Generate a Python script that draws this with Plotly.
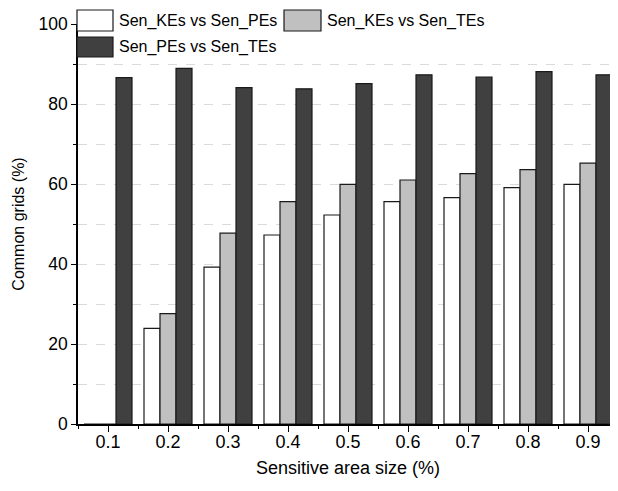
import plotly.graph_objects as go

sizes = [0.1, 0.2, 0.3, 0.4, 0.5, 0.6, 0.7, 0.8, 0.9]
size_labels = ["0.1", "0.2", "0.3", "0.4", "0.5", "0.6", "0.7", "0.8", "0.9"]
ke_vs_pe = [0, 23.9, 39.2, 47.25, 52.25, 55.6, 56.6, 59.1, 59.9]
ke_vs_te = [0, 27.6, 47.7, 55.6, 59.9, 61.0, 62.6, 63.6, 65.2]
pe_vs_te = [86.6, 88.9, 84.1, 83.8, 85.1, 87.3, 86.75, 88.1, 87.3]
series_names = ["Sen_KEs vs Sen_PEs", "Sen_KEs vs Sen_TEs", "Sen_PEs vs Sen_TEs"]
series_colors = ["#ffffff", "#c0c0c0", "#404040"]

FONT = "Liberation Sans, Arial, sans-serif"

fig = go.Figure()
for name, vals, col in zip(series_names, [ke_vs_pe, ke_vs_te, pe_vs_te], series_colors):
    fig.add_trace(go.Bar(
        x=sizes, y=vals, name=name,
        marker=dict(color=col, line=dict(color="#1a1a1a", width=1.2)),
        showlegend=False,
    ))

OFF = 8  # page body margin
W, H = 618 - OFF, 491 - OFF
L, R, T, B = 70, 0, 16, 67
pw, ph = W - L - R, H - T - B

def px(x):  # page pixel -> paper
    return (x - OFF - L) / pw

def py(y):
    return (H - B - (y - OFF)) / ph

shapes = []
annotations = []
legend_items = [
    (77, 113, 10, 31, 117, 21),
    (284, 321, 10, 31, 325, 21),
    (77, 113, 37, 57, 117, 47.5),
]
for (x0, x1, y0, y1, tx, ty), name, col in zip(legend_items, series_names, series_colors):
    shapes.append(dict(type="rect", xref="paper", yref="paper",
                       x0=px(x0), x1=px(x1), y0=py(y1), y1=py(y0),
                       fillcolor=col, line=dict(color="#1a1a1a", width=1.2), layer="above"))
    annotations.append(dict(xref="paper", yref="paper", x=px(tx), y=py(ty),
                            xanchor="left", yanchor="middle", showarrow=False,
                            text=name, font=dict(family=FONT, size=16, color="#000")))

fig.update_layout(
    width=W, height=H,
    margin=dict(l=L, r=R, t=T, b=B),
    paper_bgcolor="white", plot_bgcolor="white",
    barmode="group", bargap=0.2, bargroupgap=0,
    font=dict(family=FONT, size=16, color="#000"),
    shapes=shapes, annotations=annotations,
    showlegend=False,
    xaxis=dict(
        range=[0.05, 0.95], tickvals=sizes, ticktext=size_labels,
        ticks="outside", ticklen=6, tickwidth=1.3, tickcolor="#000",
        minor=dict(dtick=0.05, tick0=0.05, ticks="outside", ticklen=3, tickwidth=1.3, tickcolor="#000", showgrid=False),
        showline=True, linecolor="#000", linewidth=1.5,
        showgrid=False, zeroline=False,
        title=dict(text="Sensitive area size (%)", font=dict(size=18), standoff=10),
        tickfont=dict(size=18),
        ticklabelstandoff=-5,
    ),
    yaxis=dict(
        range=[0, 100], tickvals=[0, 20, 40, 60, 80, 100],
        ticks="outside", ticklen=5, tickwidth=1.3, tickcolor="#000",
        minor=dict(dtick=10, tick0=0, ticks="outside", ticklen=3, tickwidth=1.3, tickcolor="#000",
                   showgrid=True, gridcolor="#dadada", griddash="dash", gridwidth=1),
        showline=True, linecolor="#000", linewidth=1.5,
        showgrid=True, gridcolor="#dadada", griddash="dash", gridwidth=1,
        zeroline=False,
        title=dict(text="Common grids (%)", font=dict(size=16), standoff=10),
        tickfont=dict(size=17.5),
    ),
)

fig.write_html("out.html")
